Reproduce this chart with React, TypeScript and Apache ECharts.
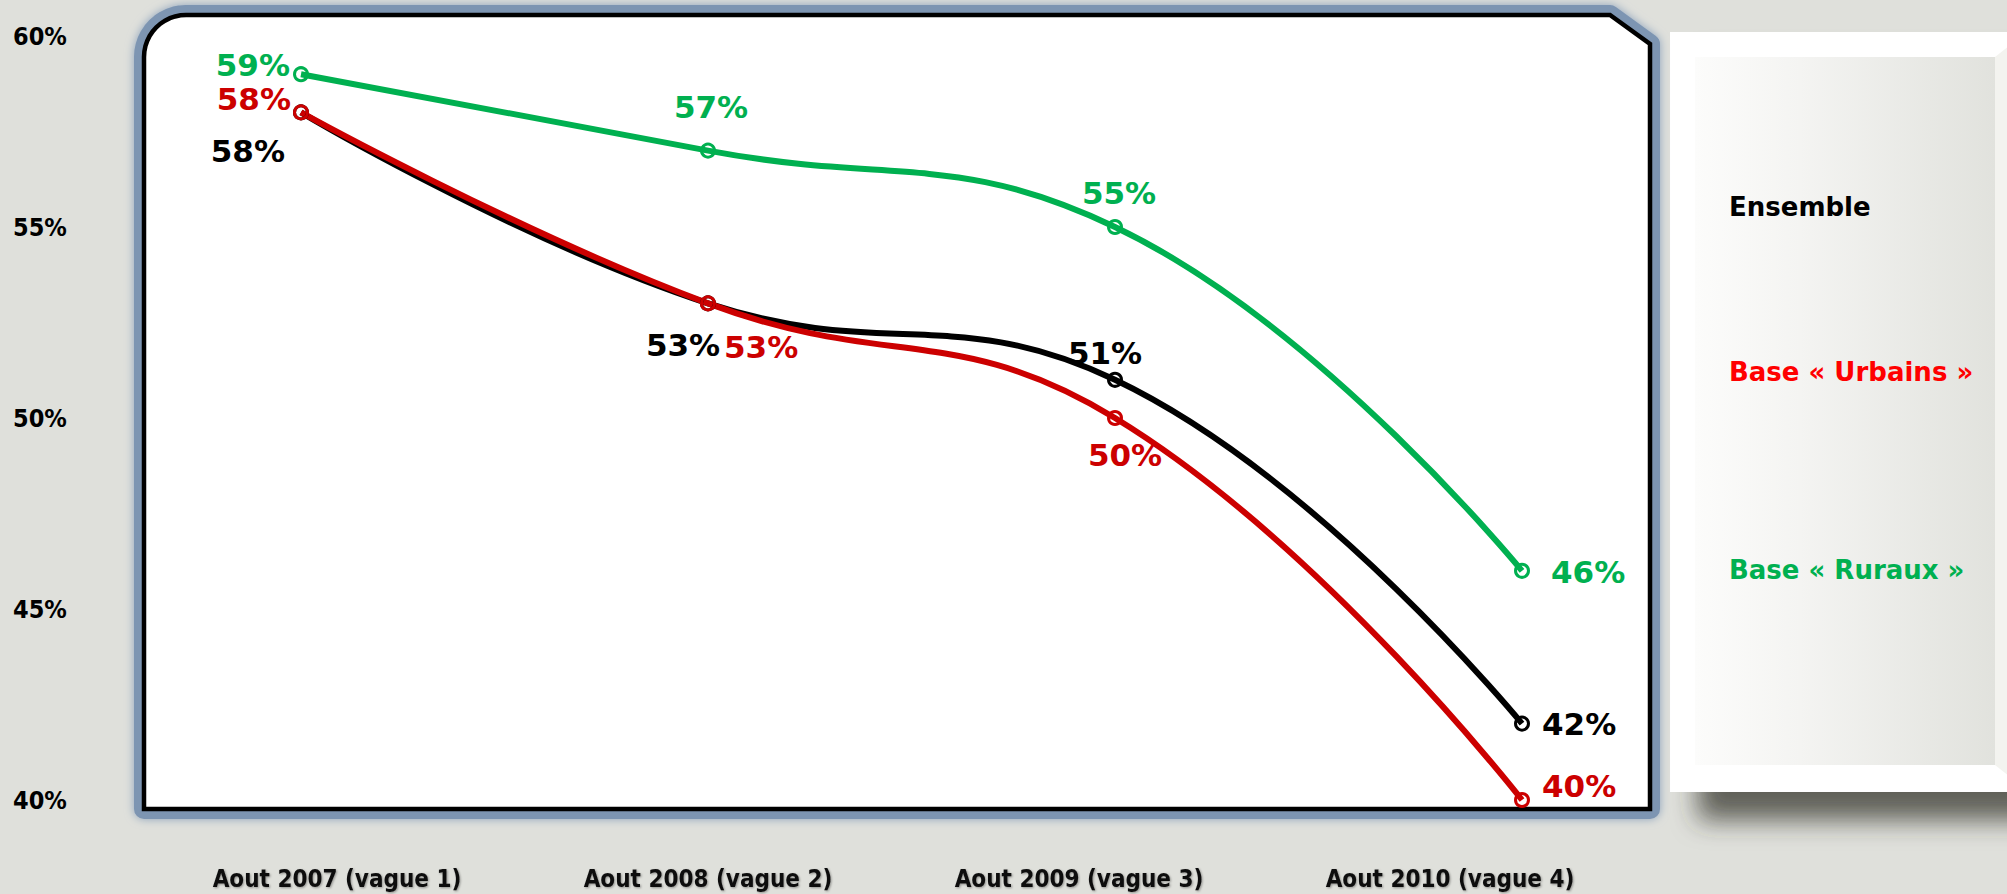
import React, { useEffect, useRef } from "react";
import * as echarts from "echarts";

const categories = [
  "Aout 2007 (vague 1)",
  "Aout 2008 (vague 2)",
  "Aout 2009 (vague 3)",
  "Aout 2010 (vague 4)",
];
const seriesNames = ["Ensemble", "Base « Urbains »", "Base « Ruraux »"];
const ensembleValues = [58, 53, 51, 42];
const urbainsValues = [58, 53, 50, 40];
const rurauxValues = [59, 57, 55, 46];
const yMin = 40;
const yMax = 60;
const yInterval = 5;

// label placement styles (per point)
const ensembleLabelStyle = [
  { position: "left", distance: 8, offset: [0, 39] },
  { position: "bottom", distance: 18, offset: [-25, 0] },
  { position: "top", distance: 3, offset: [-10, 0] },
  { position: "right", distance: 12, offset: [0, 0] },
];
const urbainsLabelStyle = [
  { position: "left", distance: 2, offset: [0, -13] },
  { position: "right", distance: 8, offset: [0, 44] },
  { position: "bottom", distance: 13, offset: [10, 0] },
  { position: "right", distance: 12, offset: [0, -14] },
];
const rurauxLabelStyle = [
  { position: "left", distance: 3, offset: [0, -9] },
  { position: "top", distance: 20, offset: [3, 0] },
  { position: "top", distance: 11, offset: [4, 0] },
  { position: "right", distance: 21, offset: [0, 1] },
];

const LABEL_FONT = "'DejaVu Sans', Verdana, sans-serif";
const COND_FONT = "'DejaVu Sans Condensed', 'DejaVu Sans', sans-serif";

function buildData(values: number[], styles: any[]) {
  return values.map((v, i) => ({
    value: v,
    label: {
      position: styles[i].position,
      distance: styles[i].distance,
      offset: styles[i].offset,
    },
  }));
}

function boxPoints() {
  const pts: number[][] = [];
  const left = 144, top = 15, right = 1650, bottom = 809, r = 42;
  const cx = left + r, cy = top + r;
  for (let k = 0; k <= 12; k++) {
    const a = Math.PI + (k / 12) * (Math.PI / 2);
    pts.push([cx + r * Math.cos(a), cy + r * Math.sin(a)]);
  }
  pts.push([1610, top]);
  pts.push([right, 44]);
  pts.push([right, bottom]);
  pts.push([left, bottom]);
  return pts;
}

export default function App() {
  const ref = useRef<HTMLDivElement>(null);
  useEffect(() => {
    if (!ref.current) return;
    const chart = echarts.init(ref.current, undefined, { renderer: "svg" });
    const lineSeries = (
      name: string,
      values: number[],
      styles: any[],
      color: string,
      labelColor: string
    ) => ({
      type: "line",
      name,
      xAxisIndex: 0,
      yAxisIndex: 0,
      data: buildData(values, styles),
      smooth: 0.45,
      symbol: "circle",
      symbolSize: 13,
      lineStyle: { color, width: 6 },
      itemStyle: { color: "rgba(255,255,255,0)", borderColor: color, borderWidth: 3 },
      label: {
        show: true,
        formatter: "{c}%",
        color: labelColor,
        fontFamily: LABEL_FONT,
        fontWeight: "bold",
        fontSize: 31,
        textBorderWidth: 0,
      },
      emphasis: { disabled: true },
      z: 3,
    });
    const pts = boxPoints();
    chart.setOption({
      animation: false,
      backgroundColor: "#dfe0db",
      graphic: [
        {
          type: "rect",
          shape: { x: 1670, y: 32, width: 345, height: 760 },
          style: {
            fill: "#ffffff",
            shadowColor: "rgba(55,55,45,0.75)",
            shadowBlur: 26,
            shadowOffsetX: 28,
            shadowOffsetY: 28,
          },
          z: -10,
        },
        {
          type: "rect",
          shape: { x: 1695, y: 57, width: 300, height: 708 },
          style: {
            fill: new echarts.graphic.LinearGradient(0, 0, 1, 0, [
              { offset: 0, color: "#fcfcfb" },
              { offset: 0.35, color: "#f4f4f2" },
              { offset: 1, color: "#e1e2dd" },
            ]),
          },
          z: -9,
        },
        {
          type: "polygon",
          shape: { points: [[1995, 57], [2010, 45], [2010, 777], [1995, 765]] },
          style: { fill: "#f3f3ef" },
          z: -9,
        },
        {
          type: "polygon",
          shape: { points: pts },
          style: {
            fill: "#ffffff",
            stroke: "#7d95b2",
            lineWidth: 20,
            lineJoin: "round",
            shadowBlur: 10,
            shadowColor: "#8ba1bc",
          },
          z: -8,
        },
        {
          type: "polygon",
          shape: { points: pts },
          style: { fill: "#ffffff", stroke: "#000000", lineWidth: 4.5 },
          z: -7,
        },
      ],
      legend: seriesNames.map((n, i) => ({
        data: [n],
        left: 1723,
        top: [194, 359, 557][i],
        orient: "vertical",
        padding: 0,
        icon: "rect",
        itemWidth: 0,
        itemHeight: 0,
        selectedMode: false,
        textStyle: {
          color: ["#000000", "#ff0000", "#00b050"][i],
          fontFamily: LABEL_FONT,
          fontWeight: "bold",
          fontSize: 26,
          textBorderWidth: 0,
          textShadowBlur: 0,
          textShadowColor: "transparent",
        },
      })),
      grid: [
        { left: 97.5, width: 1628, top: 36, height: 764 },
        { left: 151.5, width: 1484, top: 36, height: 764 },
      ],
      xAxis: [
        {
          type: "category",
          gridIndex: 0,
          data: categories,
          boundaryGap: true,
          axisLine: { show: false },
          axisTick: { show: false },
          axisLabel: { show: false },
          splitLine: { show: false },
        },
        {
          type: "category",
          gridIndex: 1,
          data: categories,
          boundaryGap: true,
          axisLine: { show: false },
          axisTick: { show: false },
          splitLine: { show: false },
          axisLabel: {
            margin: 67,
            color: "#111111",
            fontFamily: COND_FONT,
            fontWeight: "bold",
            fontSize: 24,
            textShadowColor: "rgba(0,0,0,0.35)",
            textShadowBlur: 2,
            textShadowOffsetX: 1,
            textShadowOffsetY: 1,
          },
        },
      ],
      yAxis: [
        {
          type: "value",
          gridIndex: 0,
          min: yMin,
          max: yMax,
          interval: yInterval,
          axisLine: { show: false },
          axisTick: { show: false },
          splitLine: { show: false },
          axisLabel: {
            formatter: "{value}%",
            align: "left",
            margin: 84.5,
            color: "#000000",
            fontFamily: COND_FONT,
            fontWeight: "bold",
            fontSize: 25,
          },
        },
        {
          type: "value",
          gridIndex: 1,
          min: yMin,
          max: yMax,
          show: false,
        },
      ],
      series: [
        lineSeries(seriesNames[0], ensembleValues, ensembleLabelStyle, "#000000", "#000000"),
        lineSeries(seriesNames[1], urbainsValues, urbainsLabelStyle, "#cc0000", "#cc0000"),
        lineSeries(seriesNames[2], rurauxValues, rurauxLabelStyle, "#00b050", "#00b050"),
      ],
    });
    return () => chart.dispose();
  }, []);
  return (
    <div
      ref={ref}
      style={{ position: "absolute", left: 0, top: 0, width: 2007, height: 894 }}
    />
  );
}
